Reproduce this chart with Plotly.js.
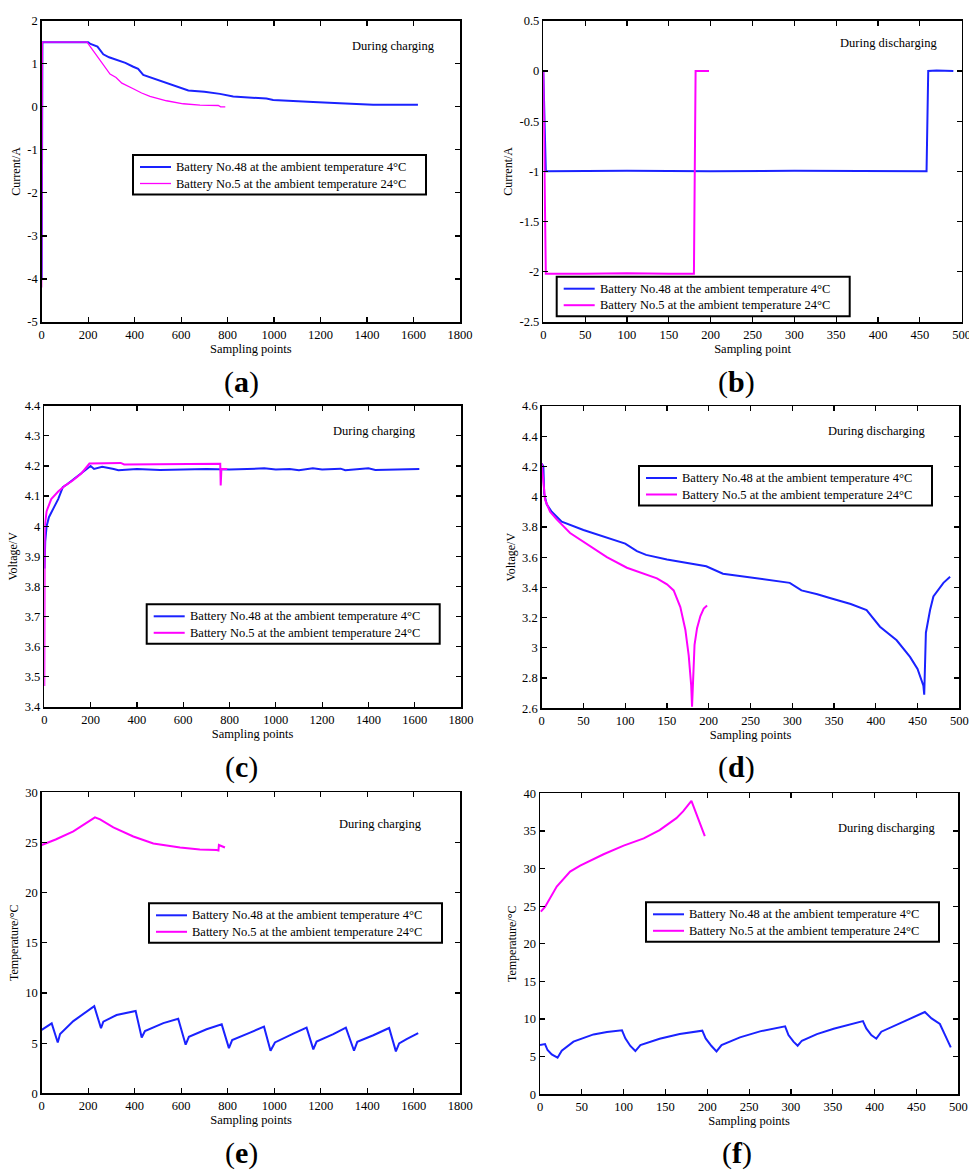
<!DOCTYPE html>
<html>
<head>
<meta charset="utf-8">
<script src="https://cdn.plot.ly/plotly-3.0.1.min.js"></script>
<style>html,body{margin:0;padding:0;background:#fff;}#chart{width:969px;height:1171px;}</style>
</head>
<body>
<div id="chart"></div>
<script>
// ---------- data ----------
const nameBlue = "Battery No.48 at the ambient temperature 4°C";
const namePink = "Battery No.5 at the ambient temperature 24°C";

// (a) current during charging
const aX48 = [0, 3, 200, 210, 240, 265, 290, 322, 360, 394, 415, 437, 470, 494, 530, 560, 595, 631, 700, 767, 824, 900, 967, 996, 1100, 1168, 1283, 1426, 1619];
const aY48 = [-4.0, 1.5, 1.5, 1.46, 1.4, 1.22, 1.15, 1.09, 1.02, 0.93, 0.88, 0.74, 0.68, 0.62, 0.56, 0.5, 0.45, 0.38, 0.35, 0.30, 0.24, 0.22, 0.19, 0.16, 0.14, 0.11, 0.08, 0.05, 0.05];
const aX5 = [0, 3, 195, 215, 236, 265, 294, 320, 345, 394, 430, 466, 537, 609, 681, 760, 770, 790];
const aY5 = [-4.2, 1.5, 1.5, 1.35, 1.18, 0.98, 0.76, 0.68, 0.55, 0.42, 0.32, 0.24, 0.14, 0.07, 0.04, 0.03, 0.0, 0.0];

// (b) current during discharging
const bX48 = [0, 3, 100, 200, 300, 400, 458, 460, 470, 490];
const bY48 = [0, -1, -0.995, -1, -0.995, -1, -1, 0, 0.005, 0];
const bX5 = [0, 3, 50, 100, 150, 180, 182, 190, 198];
const bY5 = [0, -2.02, -2.02, -2.015, -2.02, -2.02, 0, 0, 0];

// (c) voltage during charging
const cX48 = [1, 4, 10, 20, 40, 60, 80, 100, 150, 190, 200, 215, 250, 300, 320, 400, 500, 600, 700, 800, 900, 950, 1000, 1060, 1100, 1160, 1200, 1280, 1300, 1400, 1430, 1500, 1620];
const cY48 = [3.86, 3.95, 4.0, 4.03, 4.06, 4.09, 4.13, 4.14, 4.17, 4.195, 4.2, 4.19, 4.197, 4.19, 4.186, 4.19, 4.187, 4.188, 4.19, 4.188, 4.19, 4.192, 4.188, 4.19, 4.186, 4.192, 4.188, 4.191, 4.186, 4.192, 4.187, 4.188, 4.19];
const cX5 = [0, 2, 10, 30, 60, 90, 120, 160, 195, 330, 345, 760, 762, 765, 790];
const cY5 = [3.47, 4.0, 4.05, 4.09, 4.115, 4.135, 4.15, 4.175, 4.208, 4.21, 4.205, 4.207, 4.135, 4.19, 4.19];

// (d) voltage during discharging
const dX48 = [0, 2, 3, 6, 12, 24, 50, 75, 100, 114, 125, 150, 197, 217, 257, 297, 311, 330, 345, 370, 389, 405, 425, 441, 450, 457, 458, 460, 465, 469, 481, 489];
const dY48 = [4.22, 4.2, 4.02, 3.95, 3.9, 3.835, 3.78, 3.735, 3.69, 3.64, 3.615, 3.585, 3.54, 3.49, 3.46, 3.43, 3.38, 3.355, 3.33, 3.29, 3.25, 3.14, 3.05, 2.94, 2.86, 2.75, 2.69, 3.1, 3.25, 3.34, 3.43, 3.47];
const dX5 = [0, 2, 4, 10, 18, 34, 58, 78, 102, 110, 118, 138, 150, 158, 166, 172, 176, 179, 180, 181, 183, 186, 190, 194, 198];
const dY5 = [4.22, 4.1, 3.98, 3.9, 3.85, 3.76, 3.67, 3.6, 3.53, 3.515, 3.5, 3.46, 3.42, 3.38, 3.27, 3.12, 2.95, 2.75, 2.61, 2.8, 3.02, 3.13, 3.21, 3.26, 3.28];

// (e) temperature during charging
const eX48 = [0, 43, 69, 79, 136, 226, 255, 265, 322, 404, 430, 444, 523, 587, 619, 633, 709, 774, 805, 819, 896, 956, 984, 1003, 1082, 1139, 1168, 1182, 1254, 1308, 1343, 1357, 1426, 1494, 1523, 1537, 1569, 1619];
const eY48 = [6.32, 6.97, 5.07, 5.9, 7.2, 8.68, 6.48, 7.14, 7.8, 8.2, 5.56, 6.2, 7.0, 7.43, 4.84, 5.63, 6.38, 6.87, 4.5, 5.3, 6.05, 6.64, 4.24, 5.07, 5.95, 6.55, 4.38, 5.16, 5.89, 6.55, 4.24, 5.13, 5.79, 6.51, 4.18, 4.97, 5.39, 5.99];
const eX5 = [0, 60, 136, 200, 229, 251, 308, 394, 480, 595, 680, 752, 760, 762, 774, 788];
const eY5 = [24.75, 25.3, 26.1, 27.1, 27.5, 27.3, 26.5, 25.6, 24.9, 24.5, 24.3, 24.25, 24.2, 24.75, 24.6, 24.5];

// (f) temperature during discharging
const fX48 = [0, 6, 9, 14, 21, 26, 40, 64, 80, 98, 102, 108, 114, 120, 143, 167, 194, 198, 205, 211, 217, 239, 263, 293, 297, 303, 308, 313, 331, 351, 386, 390, 396, 402, 408, 430, 460, 468, 478, 486, 491];
const fY48 = [6.55, 6.68, 5.88, 5.3, 4.87, 5.8, 7.0, 7.96, 8.27, 8.5, 7.43, 6.42, 5.75, 6.55, 7.39, 8.0, 8.45, 7.43, 6.42, 5.7, 6.55, 7.57, 8.36, 9.03, 7.88, 7.0, 6.46, 7.12, 8.0, 8.72, 9.73, 8.76, 7.88, 7.39, 8.32, 9.42, 10.93, 10.09, 9.34, 7.43, 6.24];
const fX5 = [1, 6, 20, 36, 48, 76, 100, 124, 143, 163, 171, 181, 197];
const fY5 = [24.27, 24.9, 27.6, 29.6, 30.4, 31.9, 33.05, 34.0, 35.1, 36.7, 37.6, 39.0, 34.3];

// tick labels
const xTicksCharge = [0, 200, 400, 600, 800, 1000, 1200, 1400, 1600, 1800];
const xTicksDischarge = [0, 50, 100, 150, 200, 250, 300, 350, 400, 450, 500];
const aYTicks = [2, 1, 0, -1, -2, -3, -4, -5];
const aYText = ["2", "1", "0", "-1", "-2", "-3", "-4", "-5"];
const bYTicks = [0.5, 0, -0.5, -1, -1.5, -2, -2.5];
const bYText = ["0.5", "0", "-0.5", "-1", "-1.5", "-2", "-2.5"];
const cYTicks = [4.4, 4.3, 4.2, 4.1, 4.0, 3.9, 3.8, 3.7, 3.6, 3.5, 3.4];
const cYText = ["4.4", "4.3", "4.2", "4.1", "4", "3.9", "3.8", "3.7", "3.6", "3.5", "3.4"];
const dYTicks = [4.6, 4.4, 4.2, 4.0, 3.8, 3.6, 3.4, 3.2, 3.0, 2.8, 2.6];
const dYText = ["4.6", "4.4", "4.2", "4", "3.8", "3.6", "3.4", "3.2", "3", "2.8", "2.6"];
const eYTicks = [0, 5, 10, 15, 20, 25, 30];
const fYTicks = [0, 5, 10, 15, 20, 25, 30, 35, 40];

// ---------- layout ----------
const W = 969, H = 1171;
const BLUE = "#1a22ff", PINK = "#ff00ff";
const FONT = '"Liberation Serif", "Times New Roman", serif';
const px = v => v / W;
const py = v => 1 - v / H;

function line(x, y, color, width, xa, ya) {
  return {x: x, y: y, type: "scatter", mode: "lines", line: {color: color, width: width},
          name: color === BLUE ? nameBlue : namePink, showlegend: false, xaxis: xa, yaxis: ya, hoverinfo: "skip"};
}

const traces = [
  line(aX48, aY48, BLUE, 2, "x", "y"),
  line(aX5, aY5, PINK, 1.3, "x", "y"),
  line(bX48, bY48, BLUE, 2, "x2", "y2"),
  line(bX5, bY5, PINK, 2, "x2", "y2"),
  line(cX48, cY48, BLUE, 2, "x3", "y3"),
  line(cX5, cY5, PINK, 2, "x3", "y3"),
  line(dX48, dY48, BLUE, 2, "x4", "y4"),
  line(dX5, dY5, PINK, 2, "x4", "y4"),
  line(eX48, eY48, BLUE, 2, "x5", "y5"),
  line(eX5, eY5, PINK, 2, "x5", "y5"),
  line(fX48, fY48, BLUE, 2, "x6", "y6"),
  line(fX5, fY5, PINK, 2, "x6", "y6")
];

function xax(d, range, ticks, anchor, title) {
  return {domain: [px(d[0]), px(d[1])], range: range, tickvals: ticks, ticktext: ticks.map(String),
    anchor: anchor, showline: true, linecolor: "#000", linewidth: 1.5, mirror: "allticks",
    ticks: "inside", ticklen: 5, tickwidth: 1.2, tickcolor: "#000", showgrid: false, zeroline: false,
    ticklabeloverflow: "allow",
    tickfont: {family: FONT, size: 12.5, color: "#000"},
    title: {text: title, font: {family: FONT, size: 12.5, color: "#000"}, standoff: 2}};
}
function yax(d, range, ticks, text, anchor, title, standoff) {
  return {domain: [py(d[1]), py(d[0])], range: range, tickvals: ticks, ticktext: text,
    anchor: anchor, showline: true, linecolor: "#000", linewidth: 1.5, mirror: "allticks",
    ticks: "inside", ticklen: 5, tickwidth: 1.2, tickcolor: "#000", showgrid: false, zeroline: false,
    tickfont: {family: FONT, size: 12.5, color: "#000"},
    title: {text: title, font: {family: FONT, size: 12, color: "#000"}, standoff: standoff}};
}

// custom legend boxes (box, two line samples, two labels)
const shapes = [];
const annotations = [];
function legendBox(x0, y0, pinkWidth) {
  const w = 293, h = 39.5;
  shapes.push({type: "rect", xref: "paper", yref: "paper", x0: px(x0), x1: px(x0 + w), y0: py(y0), y1: py(y0 + h),
    line: {color: "#000", width: 2}, fillcolor: "#fff", layer: "above"});
  const rows = [[y0 + 12, BLUE, 2, nameBlue], [y0 + 28.5, PINK, pinkWidth, namePink]];
  rows.forEach(r => {
    shapes.push({type: "line", xref: "paper", yref: "paper", x0: px(x0 + 7), x1: px(x0 + 38), y0: py(r[0]), y1: py(r[0]),
      line: {color: r[1], width: r[2]}, layer: "above"});
    annotations.push({x: px(x0 + 41), y: py(r[0]), xref: "paper", yref: "paper", text: r[3], showarrow: false,
      xanchor: "left", yanchor: "middle", font: {family: FONT, size: 12.5, color: "#000"}});
  });
}
legendBox(133, 155, 1.3);
legendBox(556.7, 276.7, 2);
legendBox(146.7, 604.3, 2);
legendBox(639, 466, 2);
legendBox(149, 903.3, 2);
legendBox(646, 902.3, 2);

function note(x, y, text, size) {
  annotations.push({x: px(x), y: py(y), xref: "paper", yref: "paper", text: text, showarrow: false,
    xanchor: "center", yanchor: "middle", font: {family: FONT, size: size, color: "#000"}});
}
note(393, 45.7, "During charging", 12.5);
note(888, 43.3, "During discharging", 12.5);
note(374, 431, "During charging", 12.5);
note(876.7, 430.7, "During discharging", 12.5);
note(380, 824.3, "During charging", 12.5);
note(886.7, 827.7, "During discharging", 12.5);
note(241.7, 382, "(<b>a</b>)", 30);
note(736.7, 382, "(<b>b</b>)", 30);
note(241, 767, "(<b>c</b>)", 30);
note(736.7, 767, "(<b>d</b>)", 30);
note(241, 1153, "(<b>e</b>)", 30);
note(736.7, 1153, "(<b>f</b>)", 30);

const layout = {
  width: W, height: H, margin: {l: 0, r: 0, t: 0, b: 0}, paper_bgcolor: "#fff", plot_bgcolor: "#fff",
  font: {family: FONT, size: 12, color: "#000"},
  showlegend: false,
  xaxis:  xax([41.7, 460], [0, 1800], xTicksCharge, "y", "Sampling points"),
  yaxis:  yax([20.7, 322], [-5, 2], aYTicks, aYText, "x", "Current/A", 4),
  xaxis2: xax([543.3, 961.7], [0, 500], xTicksDischarge, "y2", "Sampling point"),
  yaxis2: yax([20.7, 322], [-2.5, 0.5], bYTicks, bYText, "x2", "Current/A", 4),
  xaxis3: xax([44.3, 461], [0, 1800], xTicksCharge, "y3", "Sampling points"),
  yaxis3: yax([405.7, 707], [3.4, 4.4], cYTicks, cYText, "x3", "Voltage/V", 4),
  xaxis4: xax([541.7, 959.3], [0, 500], xTicksDischarge, "y4", "Sampling points"),
  yaxis4: yax([406, 708.3], [2.6, 4.6], dYTicks, dYText, "x4", "Voltage/V", 4),
  xaxis5: xax([41.7, 460.3], [0, 1800], xTicksCharge, "y5", "Sampling points"),
  yaxis5: yax([792.3, 1093.3], [0, 30], eYTicks, eYTicks.map(String), "x5", "Temperature/°C", 4),
  xaxis6: xax([540, 958.3], [0, 500], xTicksDischarge, "y6", "Sampling points"),
  yaxis6: yax([793.3, 1094.3], [0, 40], fYTicks, fYTicks.map(String), "x6", "Temperature/°C", 4),
  shapes: shapes,
  annotations: annotations
};

Plotly.newPlot("chart", traces, layout, {staticPlot: true, displayModeBar: false});
</script>
</body>
</html>
